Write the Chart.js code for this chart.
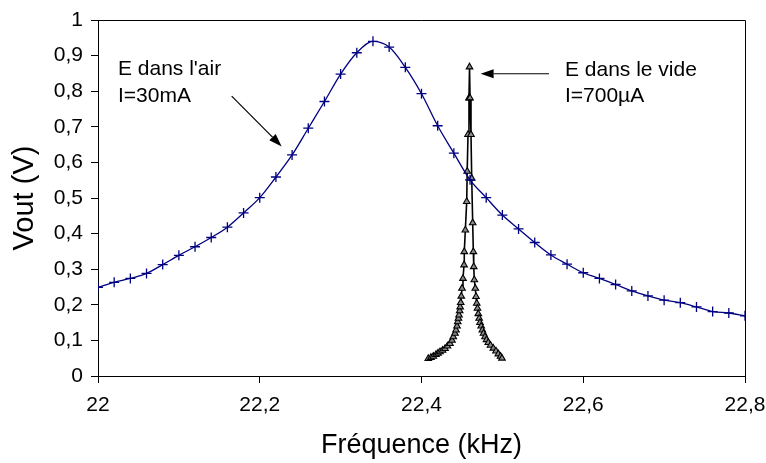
<!DOCTYPE html>
<html>
<head>
<meta charset="utf-8">
<script src="https://cdn.jsdelivr.net/npm/chart.js@4/dist/chart.umd.min.js"></script>
<style>
html,body{margin:0;padding:0;background:#fff;}
#wrap{width:766px;height:463px;position:relative;}
</style>
</head>
<body>
<div id="wrap"><canvas id="c" width="766" height="463"></canvas></div>
<script>
// ---- Data ----
const airFreq = [22.00,22.02,22.04,22.06,22.08,22.10,22.12,22.14,22.16,22.18,
                 22.20,22.22,22.24,22.26,22.28,22.30,22.32,22.34,22.36,22.38,
                 22.40,22.42,22.44,22.46,22.48,22.50,22.52,22.54,22.56,22.58,
                 22.60,22.62,22.64,22.66,22.68,22.70,22.72,22.74,22.76,22.78,22.80];
const airVout = [0.249,0.263,0.274,0.288,0.313,0.339,0.363,0.389,0.418,0.458,
                 0.501,0.559,0.621,0.696,0.771,0.848,0.908,0.940,0.924,0.867,
                 0.793,0.703,0.626,0.551,0.501,0.452,0.413,0.375,0.340,0.314,
                 0.290,0.274,0.257,0.239,0.225,0.213,0.206,0.194,0.181,0.177,0.169];

const vacFreq = [22.4084,22.4117,22.4146,22.4179,22.4204,22.4229,22.4260,22.4291,22.4321,22.4352,
                 22.4377,22.4393,22.4414,22.4427,22.4439,22.4448,22.4457,22.4464,22.4472,22.4478,
                 22.4485,22.4492,22.4501,22.4513,22.4526,22.4529,22.4542,22.4559,22.4565,22.4575,
                 22.4587,22.4594,22.4600,22.4612,22.4621,22.4633,22.4641,22.4646,22.4653,22.4665,
                 22.4674,22.4683,22.4692,22.4702,22.4713,22.4723,22.4738,22.4752,22.4767,22.4785,
                 22.4804,22.4826,22.4853,22.4888,22.4921,22.4950,22.4977,22.4995];
const vacVout = [0.049,0.052,0.055,0.060,0.064,0.068,0.072,0.077,0.084,0.091,
                 0.100,0.110,0.120,0.129,0.140,0.152,0.162,0.171,0.183,0.194,
                 0.206,0.224,0.246,0.274,0.312,0.349,0.410,0.490,0.575,0.678,
                 0.781,0.868,0.781,0.678,0.555,0.430,0.349,0.307,0.270,0.246,
                 0.223,0.204,0.190,0.175,0.162,0.150,0.140,0.129,0.120,0.110,
                 0.102,0.094,0.086,0.078,0.070,0.062,0.055,0.050];

const xTickLabels = ['22','22,2','22,4','22,6','22,8'];
const yTickLabels = ['0','0,1','0,2','0,3','0,4','0,5','0,6','0,7','0,8','0,9','1'];

const xTitle = 'Fréquence (kHz)';
const yTitle = 'Vout (V)';

// annotations (data coordinates)
const notes = [
  {lines:["E dans l'air","I=30mA"], x:22.0247, y:[0.845,0.769]},
  {lines:["E dans le vide","I=700µA"], x:22.5774, y:[0.844,0.769]}
];
const arrows = [
  {from:[22.1653,0.786], to:[22.2271,0.645]},
  {from:[22.5577,0.849], to:[22.4731,0.849]}
];

const FONT = 'Arial, "Liberation Sans", Helvetica, sans-serif';

const annotPlugin = {
  id:'annot',
  afterDraw(chart){
    const ctx = chart.ctx, xs = chart.scales.x, ys = chart.scales.y, a = chart.chartArea;
    ctx.save();
    // frame box
    ctx.strokeStyle = '#000'; ctx.lineWidth = 1;
    ctx.beginPath();
    ctx.moveTo(a.left, a.top+0.5); ctx.lineTo(a.right+0.5, a.top+0.5); ctx.lineTo(a.right+0.5, a.bottom);
    ctx.stroke();
    // texts
    ctx.fillStyle = '#000';
    ctx.font = '21px ' + FONT;
    ctx.textBaseline = 'alphabetic';
    ctx.textAlign = 'left';
    notes.forEach(n => {
      n.lines.forEach((t,i) => ctx.fillText(t, xs.getPixelForValue(n.x), ys.getPixelForValue(n.y[i])));
    });
    // arrows
    arrows.forEach(ar => {
      const x0 = xs.getPixelForValue(ar.from[0]), y0 = ys.getPixelForValue(ar.from[1]);
      const x1 = xs.getPixelForValue(ar.to[0]), y1 = ys.getPixelForValue(ar.to[1]);
      const ang = Math.atan2(y1-y0, x1-x0);
      const hl = 13, hw = 4.5;
      const bx = x1 - hl*Math.cos(ang), by = y1 - hl*Math.sin(ang);
      ctx.beginPath(); ctx.moveTo(x0,y0); ctx.lineTo(bx,by);
      ctx.lineWidth = 1.2; ctx.stroke();
      ctx.beginPath();
      ctx.moveTo(x1,y1);
      ctx.lineTo(bx + hw*Math.sin(ang), by - hw*Math.cos(ang));
      ctx.lineTo(bx - hw*Math.sin(ang), by + hw*Math.cos(ang));
      ctx.closePath(); ctx.fill();
    });
    ctx.restore();
  }
};

new Chart(document.getElementById('c'), {
  type:'line',
  data:{
    datasets:[
      {
        label:'air',
        data: airFreq.map((f,i)=>({x:f,y:airVout[i]})),
        borderColor:'#000080', borderWidth:1.3,
        pointStyle:'cross', pointRadius:5, pointBorderColor:'#000080', pointBorderWidth:1.3,
        pointBackgroundColor:'#000080',
        tension:0.4, cubicInterpolationMode:'monotone', fill:false
      },
      {
        label:'vide',
        data: vacFreq.map((f,i)=>({x:f,y:vacVout[i]})),
        borderColor:'#000', borderWidth:1.6,
        pointStyle:'triangle', pointRadius:3.8, pointBorderColor:'#000', pointBorderWidth:1.1,
        pointBackgroundColor:'#8a8a8a',
        tension:0, fill:false
      }
    ]
  },
  options:{
    responsive:false, animation:false, devicePixelRatio:1,
    layout:{padding:{top:20, right:21, left:0, bottom:0}},
    plugins:{legend:{display:false}, tooltip:{enabled:false}},
    scales:{
      x:{
        type:'linear', min:22, max:22.8,
        afterFit(s){ s.height = 87; s.paddingLeft = 0; s.paddingRight = 0; },
        afterBuildTicks(s){ s.ticks = xTickLabels.map((_,i)=>({value:22+0.2*i})); },
        ticks:{ callback:(v,i)=>xTickLabels[i], color:'#000', font:{family:FONT,size:21}, padding:10, maxRotation:0, autoSkip:false },
        grid:{ drawOnChartArea:false, drawTicks:true, tickLength:7, color:'#000' },
        border:{ color:'#000', width:1 },
        title:{ display:true, text:xTitle, color:'#000', font:{family:FONT,size:27}, padding:{top:0,bottom:1} }
      },
      y:{
        type:'linear', min:0, max:1,
        afterFit(s){ s.width = 98; s.paddingTop = 0; s.paddingBottom = 0; },
        afterBuildTicks(s){ s.ticks = yTickLabels.map((_,i)=>({value:i/10})); },
        ticks:{ callback:(v,i)=>yTickLabels[i], color:'#000', font:{family:FONT,size:21}, padding:8, autoSkip:false },
        grid:{ drawOnChartArea:false, drawTicks:true, tickLength:7, color:'#000' },
        border:{ color:'#000', width:1 },
        title:{ display:true, text:yTitle, color:'#000', font:{family:FONT,size:29}, padding:{top:8,bottom:0} }
      }
    }
  },
  plugins:[annotPlugin]
});
</script>
</body>
</html>
